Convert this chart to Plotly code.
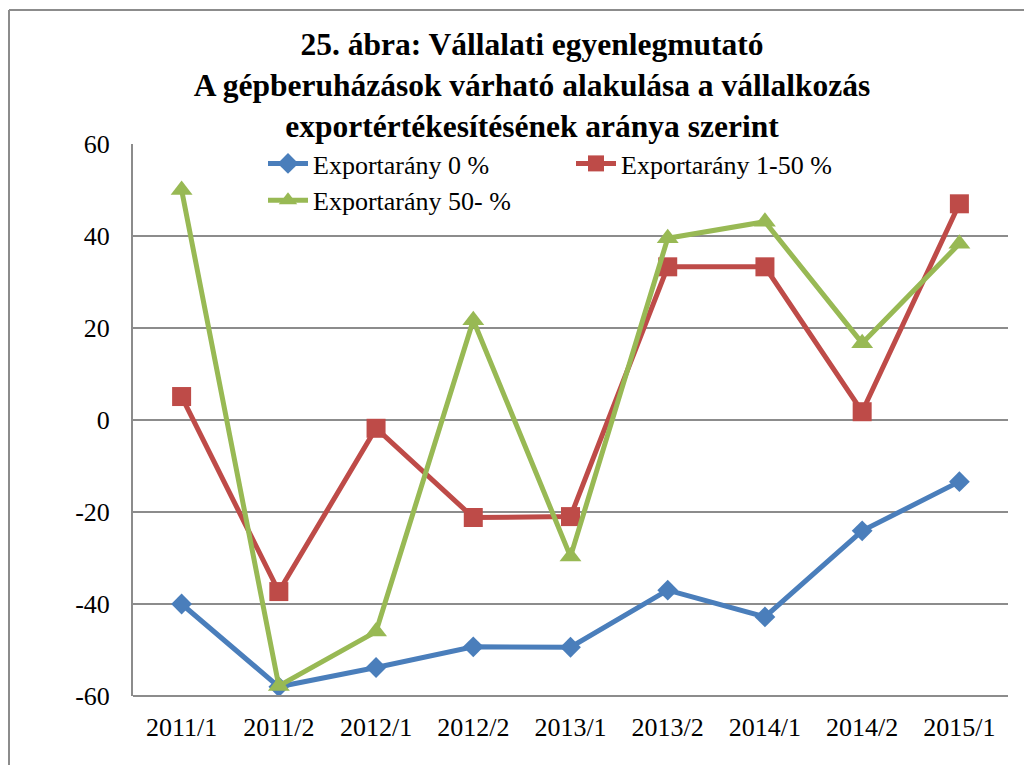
import plotly.graph_objects as go

categories = ["2011/1", "2011/2", "2012/1", "2012/2", "2013/1", "2013/2", "2014/1", "2014/2", "2015/1"]
export_0 = [-40, -58, -53.8, -49.3, -49.4, -37, -42.8, -24.1, -13.4]
export_1_50 = [5.1, -37.3, -1.8, -21.2, -21, 33.3, 33.3, 1.8, 47]
export_50 = [50, -57.8, -46, 21.7, -29.7, 39.5, 43.1, 16.7, 38.3]

series_names = ["Exportarány 0 %", "Exportarány 1-50 %", "Exportarány 50- %"]
y_ticks = [-60, -40, -20, 0, 20, 40, 60]
y_tick_labels = ["-60", "-40", "-20", "0", "20", "40", "60"]

FONT = '"Liberation Serif", "Times New Roman", Times, serif'

fig = go.Figure()
fig.add_trace(go.Scatter(x=categories, y=export_0, name=series_names[0], mode="lines+markers",
                         line=dict(color="#4A7EBB", width=5),
                         marker=dict(symbol="diamond", size=16, color="#4A7EBB")))
fig.add_trace(go.Scatter(x=categories, y=export_1_50, name=series_names[1], mode="lines+markers",
                         line=dict(color="#BE4B48", width=5),
                         marker=dict(symbol="square", size=19, color="#BE4B48")))
fig.add_trace(go.Scatter(x=categories, y=export_50, name=series_names[2], mode="lines+markers",
                         line=dict(color="#98B954", width=5),
                         marker=dict(symbol="triangle-up", size=19, color="#98B954")))

L, R, T, B = 133, 16, 144, 69
W, H = 1024, 765
pw, ph = W - L - R, H - T - B

fig.update_layout(
    width=W, height=H,
    margin=dict(l=L, r=R, t=T, b=B, autoexpand=False),
    paper_bgcolor="white", plot_bgcolor="white",
    font=dict(family=FONT, size=26, color="black"),
    title=dict(
        text="<b>25. ábra: Vállalati egyenlegmutató<br>A gépberuházások várható alakulása a vállalkozás<br>exportértékesítésének aránya szerint</b>",
        font=dict(family=FONT, size=31.5, color="black"),
        x=(532) / W, xanchor="center", y=1 - 55 / H, yanchor="middle",
    ),
    xaxis=dict(type="category", categoryorder="array", categoryarray=categories,
               showgrid=False, showline=False, ticks="", tickfont=dict(size=26, family=FONT),
               ticklabelstandoff=13, range=[-0.5, 8.5], fixedrange=True, automargin=False),
    yaxis=dict(range=[-60, 60], tickvals=y_ticks, ticktext=y_tick_labels,
               showgrid=True, gridcolor="#8C8C8C", gridwidth=2,
               showline=True, linecolor="#8C8C8C", linewidth=2, zeroline=False, ticks="",
               ticklabelstandoff=16, tickfont=dict(size=26, family=FONT), automargin=False),
    legend=dict(orientation="h", x=(263 - L) / pw, xanchor="left", y=1.0 + 4 / ph, yanchor="top",
                entrywidth=253, entrywidthmode="pixels",
                font=dict(family=FONT, size=26, color="black"), bgcolor="rgba(0,0,0,0)",
                itemwidth=40, tracegroupgap=0),
    showlegend=True,
)

# bottom axis line along -60 gridline
fig.add_shape(type="line", xref="paper", yref="paper", x0=0, x1=1, y0=0, y1=0,
              line=dict(color="#8C8C8C", width=2))
# outer chart-area border (top & left visible)
bx = (9 - L) / pw
by = (H - B - 10) / ph
fig.add_shape(type="line", xref="paper", yref="paper", x0=bx, x1=bx, y0=(H - B - H - 5) / ph, y1=by,
              line=dict(color="#8C8C8C", width=2))
fig.add_shape(type="line", xref="paper", yref="paper", x0=bx, x1=(W + 5 - L) / pw, y0=by, y1=by,
              line=dict(color="#8C8C8C", width=2))

fig.write_html("out.html", config={"displayModeBar": False},
               post_script="document.body.style.margin='0';")
